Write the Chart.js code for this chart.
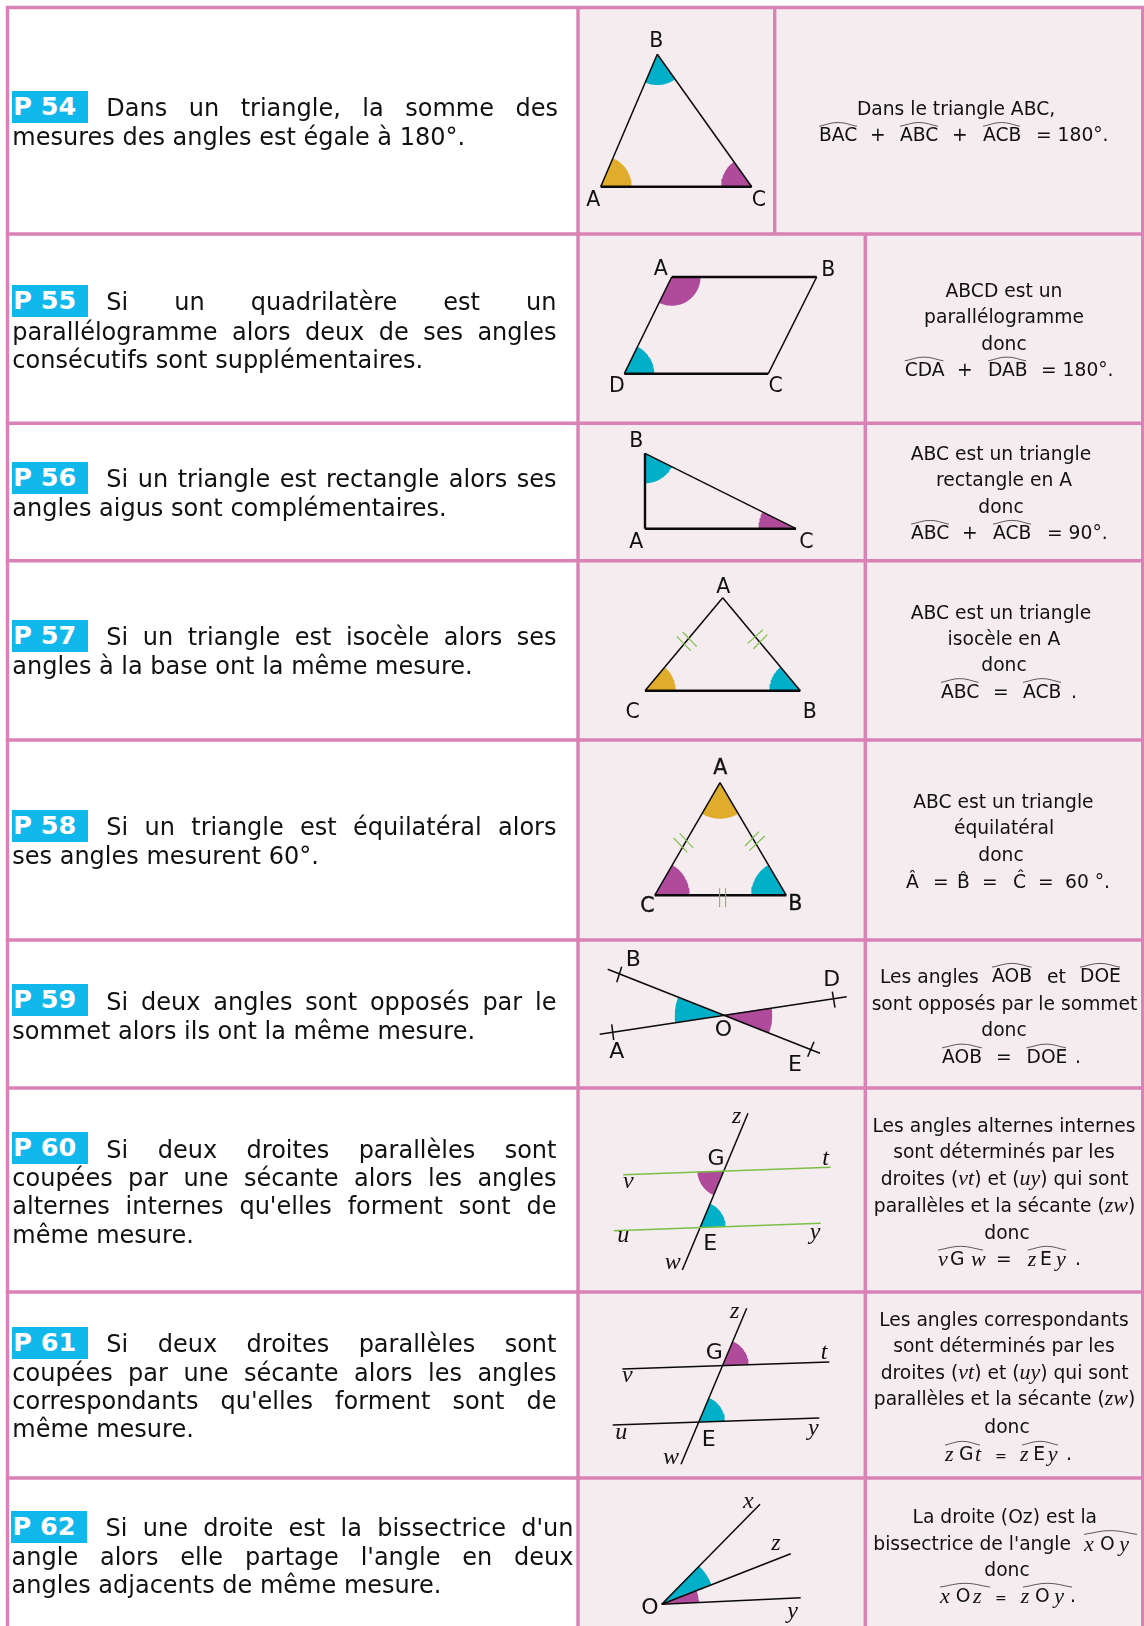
<!DOCTYPE html>
<html lang="fr"><head><meta charset="utf-8"><title>Propriétés des angles</title>
<script src="https://cdn.jsdelivr.net/npm/chart.js@4"></script>
<style>
html,body{margin:0;padding:0;background:#fff}
#wrap{position:relative;width:1144px;height:1626px;overflow:hidden;font-family:"DejaVu Sans",sans-serif;color:#111}
canvas{position:absolute;left:0;top:0}
.t{position:absolute;line-height:0;white-space:pre}
.j{position:absolute;line-height:0;white-space:normal;text-align:justify;text-align-last:justify}
.b{position:absolute;background:#11b8ec;color:#fff;font-weight:bold;font-size:25.5px;height:32px;line-height:31px;white-space:pre;box-sizing:border-box;padding-left:1.5px}
.strong{-webkit-text-stroke:.35px #111}
i{font-family:"Liberation Serif",serif;font-style:italic;font-size:22px}
</style></head><body><div id="wrap"><canvas id="c" width="1144" height="1626"></canvas></div>
<script>
// ---- table structure
const rowLines=[7.5,234,423.3,560.7,740,940,1088,1292,1478];
const pageBottom=1626, leftEdge=7.5, rightEdge=1142.7, col1=578;
const col2Top=774.7, col2=865.3;

// ---- figures: straight strokes [x1,y1,x2,y2]
const thinStrokes=[
 [600.7,186.7,657.3,54.3],[657.3,54.3,751.7,186.7],
 [671.7,277,624.3,373.7],[816.7,277,768.3,373.7],
 [645,453.3,796,528.7],
 [722.7,597.7,645,690.7],[722.7,597.7,800.3,690.7],
 [720,782.7,654.7,895.3],[720,782.7,786.3,895.3],
 [607.7,969.3,820,1053.3],[599.7,1034.3,846.7,996.7],
 [621.7,966.7,616.7,982.3],[611.7,1024.3,613.7,1040],[832.3,991.7,835,1007.7],[814,1041.7,807.7,1056.7],
 [748,1113.3,682.3,1270],
 [746.7,1308.3,681,1464.3],[622.3,1369,829.3,1362],[612.7,1425,819.3,1418],
 [661.7,1604.3,760,1504.3],[661.7,1604.3,790.7,1553.7],[661.7,1604.3,800.7,1597.7]
];
const thickStrokes=[
 [600.7,186.7,751.7,186.7],
 [671.7,277,816.7,277],[624.3,373.7,768.3,373.7],
 [645,453.3,645,528.7],[645,528.7,796,528.7],
 [645,690.7,800.3,690.7],
 [654.7,895.3,786.3,895.3]
];
const greenLines=[[623.3,1174.7,830.7,1167.3],[613.7,1230.7,820.7,1223.3]];
const greenTicks=[
 [676.7,636.3,690.7,650.7],[682.7,632,696.7,646.7],[747.7,643.3,762.7,630],[753.3,649,767.3,634.7],
 [673.7,838,687.3,852.3],[679.7,833.3,693.3,848],[745,846,759,831.7],[749.3,850.7,764.7,836],
 [719,906.7,719.6,888.3],[725,906.7,725.6,888.3]
];
// ---- angle marks [vertexX,vertexY,towardX1,towardY1,towardX2,towardY2,radius]
const cyanSectors=[
 [657.3,54.3,600.7,186.7,751.7,186.7,30.7],
 [624.3,373.7,768.3,373.7,671.7,277,30],
 [645,453.3,645,528.7,796,528.7,30],
 [800.3,690.7,645,690.7,722.7,597.7,31],
 [786.3,895.3,654.7,895.3,720,782.7,35.3],
 [722.7,1015,607.7,969.3,599.7,1034.3,48],
 [700,1227.3,820.7,1223.3,748,1113.3,25.7],
 [699.3,1421.7,819.3,1418,746.7,1308.3,25.7],
 [661.7,1604.3,760,1504.3,790.7,1553.7,53.5]
];
const goldSectors=[
 [600.7,186.7,751.7,186.7,657.3,54.3,31],
 [645,690.7,800.3,690.7,722.7,597.7,30.7],
 [720,782.7,654.7,895.3,786.3,895.3,36]
];
const magentaSectors=[
 [751.7,186.7,600.7,186.7,657.3,54.3,30.7],
 [671.7,277,816.7,277,624.3,373.7,28.8],
 [796,528.7,645,528.7,645,453.3,37.5],
 [654.7,895.3,786.3,895.3,720,782.7,35],
 [722.7,1015,846.7,996.7,820,1053.3,49.5],
 [724,1170.7,623.3,1174.7,682.3,1270,26.5],
 [723,1365.3,829.3,1362,746.7,1308.3,25.7],
 [661.7,1604.3,790.7,1553.7,800.7,1597.7,37.5]
];
// ---- angle hats [x1,x2,baseline]
const hats=[
 [819,857,141.9],[900,938,141.9],[983,1020,141.9],
 [904.7,943.4,376.5],[988,1026,376.5],
 [911,949,539.8],[993,1031,539.8],
 [941,978.5,698],[1023,1061,698],
 [992,1031.6,982.8],[1080,1120,982.8],
 [942,982,1063.5],[1026.5,1066,1063.5],
 [938,983,1265.7],[1027.7,1066,1265.7],
 [945,980,1460.7],[1022,1058,1460.7],
 [1084,1137,1550],
 [940,990,1602.7],[1023,1072,1602.7]
];

// ---- text
const rules=[
 {tag:"P 54",box:[11.7,91],first:"Dans un triangle, la somme des",rest:["mesures des angles est égale à 180°."],base:[116,145],right:558},
 {tag:"P 55",box:[11.7,285],first:"Si un quadrilatère est un",rest:["parallélogramme alors deux de ses angles","consécutifs sont supplémentaires."],base:[310,340.4,368.4],right:556.5},
 {tag:"P 56",box:[11.7,462.3],first:"Si un triangle est rectangle alors ses",rest:["angles aigus sont complémentaires."],base:[486.9,516.6],right:556.5},
 {tag:"P 57",box:[11.7,620.1],first:"Si un triangle est isocèle alors ses",rest:["angles à la base ont la même mesure."],base:[645.2,674.4],right:556.5},
 {tag:"P 58",box:[11.7,810.1],first:"Si un triangle est équilatéral alors",rest:["ses angles mesurent 60°."],base:[835.1,864.4],right:556.5},
 {tag:"P 59",box:[11.7,984],first:"Si deux angles sont opposés par le",rest:["sommet alors ils ont la même mesure."],base:[1010,1039],right:556.5},
 {tag:"P 60",box:[11.7,1132],first:"Si deux droites parallèles sont",rest:["coupées par une sécante alors les angles","alternes internes qu'elles forment sont de","même mesure."],base:[1158,1186.6,1214.6,1243],right:556.5},
 {tag:"P 61",box:[11.7,1327],first:"Si deux droites parallèles sont",rest:["coupées par une sécante alors les angles","correspondants qu'elles forment sont de","même mesure."],base:[1352.4,1381.4,1409.4,1437],right:556.5},
 {tag:"P 62",box:[11,1511],first:"Si une droite est la bissectrice d'un",rest:["angle alors elle partage l'angle en deux","angles adjacents de même mesure."],base:[1536.4,1565.4,1593],right:573.5}
];
// centred lines of the third column [text,centreX,baseline]
const centred=[
 ["Dans le triangle ABC,",956,115],
 ["ABCD est un",1004,297.5],["parallélogramme",1004,323.5],["donc",1004,350],
 ["ABC est un triangle",1001,460.4],["rectangle en A",1004,486.7],["donc",1001,513],
 ["ABC est un triangle",1001,619.6],["isocèle en A",1004,645.6],["donc",1004,671.2],
 ["ABC est un triangle",1003.4,808.6],["équilatéral",1004,834.1],["donc",1001,861.2],
 ["sont opposés par le sommet",1004.5,1010.8],["donc",1004,1036.8],
 ["Les angles alternes internes",1004,1132.5],["sont déterminés par les",1004,1158.3],["droites (<i>vt</i>) et (<i>uy</i>) qui sont",1004.7,1184],["parallèles et la sécante (<i>zw</i>)",1004.5,1211],["donc",1007,1239],
 ["Les angles correspondants",1004,1326],["sont déterminés par les",1004,1352.3],["droites (<i>vt</i>) et (<i>uy</i>) qui sont",1004.7,1378],["parallèles et la sécante (<i>zw</i>)",1004.5,1404.6],["donc",1007,1433.3],
 ["La droite (Oz) est la",1004.8,1523.4],["donc",1007,1576]
];
// left-anchored formula pieces [text,leftX,baseline]
const pieces=[
 ["BAC",819,141.9],["+",870,141.9],["ABC",900,141.9],["+",952,141.9],["ACB",983,141.9],["= 180°.",1036,141.9],
 ["CDA",904.7,376.5],["+",957,376.5],["DAB",988,376.5],["= 180°.",1041,376.5],
 ["ABC",911,539.8],["+",962,539.8],["ACB",993,539.8],["= 90°.",1047,539.8],
 ["ABC",941,698],["=",993,698],["ACB",1023,698],[".",1071,698],
 ["Â",906,888.3],["=",933,888.3],["B\u0302",957,888.3],["=",982,888.3],["Ĉ",1013,888.3],["=",1038,888.3],["60 °.",1065,888.3],
 ["Les angles",880,983],["AOB",992,982.8],["et",1047,983],["DOE",1080,982.8],
 ["AOB",942,1063.5],["=",996,1063.5],["DOE",1026.5,1063.5],[".",1075,1063.5],
 ["<i>v</i>",938,1265.7],["G",950,1265.7],["<i>w</i>",971,1265.7],["=",996,1265.7],["<i>z</i>",1027.7,1265.7],["E",1040,1265.7],["<i>y</i>",1056,1265.7],[".",1075,1265.7],
 ["<i>z</i>",945,1460.7],["G",959,1460.7],["<i>t</i>",975,1460.7],["<i>z</i>",1020,1460.7],["E",1033.3,1460.7],["<i>y</i>",1047.7,1460.7],[".",1066,1460.7],
 ["bissectrice de l'angle",873.3,1550],["<i>x</i>",1084,1550],["O",1100,1550],["<i>y</i>",1119.3,1550],
 ["<i>x</i>",940,1602.7],["O",955.7,1602.7],["<i>z</i>",973,1602.7],["<i>z</i>",1020.7,1602.7],["O",1035,1602.7],["<i>y</i>",1054.3,1602.7],[".",1070,1602.7]
];
const smallEquals=[[995,1460.7],[995,1602.7]];
// figure labels [text,centreX,centreY]
const pointLabels=[
 ["A",593.3,200],["B",656.3,40.7],["C",759,200],
 ["A",660.7,269.3],["B",828.3,270],["D",617,385.7],["C",775.7,385.7],
 ["B",636.3,440.7],["A",636.3,541.7],["C",806.3,541.7],
 ["A",723.3,587.3],["C",632.7,711.7],["B",809.7,711.7]
];
const largeLabels=[
 ["B",633.3,959.3],["D",831.7,980],["O",723.3,1029.3],["A",616.7,1051.7],["E",795,1065],
 ["G",716,1158.3],["E",710.3,1243.3],
 ["G",714.3,1352.7],["E",708.7,1439.3],
 ["O",650,1607.7]
];
const strongLabels=[["A",720.3,768.3],["C",647.3,905.7],["B",795.3,904]];
const lineLabels=[
 ["z",736.7,1118.3],["t",825.7,1160],["v",628.3,1183.3],["u",623.3,1237.3],["y",815,1234],["w",672.7,1264.3],
 ["z",734.7,1313.3],["t",824,1354],["v",627.3,1377.7],["u",621.3,1434],["y",813.3,1430],["w",671,1459],
 ["x",748.3,1503.3],["z",776,1545],["y",792.7,1613.3]
];

// ---- build datasets
const CELL="#f4ecee",GRID="#da82b5",CYAN="#00b0c9",GOLD="#e0ac2b",MAG="#b04a9a",GREEN="#7cbf45",INK="#0a0a0a";
const P=(x,y)=>({x,y});
const poly=(pts,c)=>({data:pts,showLine:true,fill:'shape',backgroundColor:c,borderWidth:0,pointRadius:0,tension:0,clip:false});
const seg=(s,c,w)=>({data:[P(s[0],s[1]),P(s[2],s[3])],showLine:true,fill:false,borderColor:c,borderWidth:w,pointRadius:0,borderCapStyle:'butt',clip:false});
const rect=(a,b,c,d,col)=>poly([P(a,b),P(c,b),P(c,d),P(a,d)],col);
function sector(s,c){
 const [vx,vy,ax,ay,bx,by,r]=s;
 let a=Math.atan2(ay-vy,ax-vx),b=Math.atan2(by-vy,bx-vx),d=b-a;
 while(d>Math.PI)d-=2*Math.PI; while(d<-Math.PI)d+=2*Math.PI;
 const pts=[P(vx,vy)];
 for(let i=0;i<=24;i++){const t=a+d*i/24;pts.push(P(vx+r*Math.cos(t),vy+r*Math.sin(t)));}
 return poly(pts,c);
}
const ds=[];
ds.push(rect(col1,rowLines[0],rightEdge,pageBottom,CELL));
cyanSectors.forEach(s=>ds.push(sector(s,CYAN)));
goldSectors.forEach(s=>ds.push(sector(s,GOLD)));
magentaSectors.forEach(s=>ds.push(sector(s,MAG)));
thinStrokes.forEach(s=>ds.push(seg(s,INK,1.5)));
thickStrokes.forEach(s=>ds.push(seg(s,INK,2.4)));
greenLines.forEach(s=>ds.push(seg(s,GREEN,1.6)));
greenTicks.forEach(s=>ds.push(seg(s,GREEN,1.1)));
hats.forEach(h=>ds.push({data:[P(h[0],h[2]-15.6),P((h[0]+h[1])/2,h[2]-19.4),P(h[1],h[2]-15.6)],showLine:true,fill:false,borderColor:"#333",borderWidth:.8,pointRadius:0,tension:.4,clip:false}));
const GW=3.4;
rowLines.forEach(y=>ds.push(seg([leftEdge-1.7,y,1144,y],GRID,GW)));
ds.push(seg([leftEdge,rowLines[0],leftEdge,pageBottom],GRID,GW));
ds.push(seg([col1,rowLines[0],col1,pageBottom],GRID,GW));
ds.push(seg([rightEdge,rowLines[0],rightEdge,pageBottom],GRID,GW));
ds.push(seg([col2Top,rowLines[0],col2Top,rowLines[1]],GRID,GW));
ds.push(seg([col2,rowLines[1],col2,pageBottom],GRID,GW));
ds.reverse(); // Chart.js paints the last dataset first

new Chart(document.getElementById('c'),{type:'scatter',data:{datasets:ds},options:{
 responsive:false,animation:false,events:[],layout:{padding:0},
 plugins:{legend:{display:false},tooltip:{enabled:false},title:{display:false}},
 scales:{x:{type:'linear',display:false,min:0,max:1144},y:{type:'linear',display:false,reverse:true,min:0,max:1626}}
}});

// ---- real text
const wrap=document.getElementById('wrap');
function put(html,x,base,size,opt={}){
 const e=document.createElement('div');e.className='t';e.innerHTML=html;
 e.style.fontSize=size+'px';
 e.style.top=(base-.346*size)+'px';
 if(opt.center){e.style.left=(x-200)+'px';e.style.width='400px';e.style.textAlign='center';}
 else e.style.left=x+'px';
 if(opt.cls)e.className+=' '+opt.cls;
 wrap.appendChild(e);return e;
}
const BODY=24,SMALL=18.7,LABEL=20.5,LABEL_LARGE=22;
rules.forEach(r=>{
 const b=document.createElement('div');b.className='b';b.textContent=r.tag;
 b.style.left=r.box[0]+'px';b.style.top=r.box[1]+'px';b.style.width=(r.tag==="P 62"?75.8:76.6)+'px';wrap.appendChild(b);
 const lefts=r.box[0]+.6;
 const lines=[r.first,...r.rest];
 lines.forEach((t,i)=>{
  const last=i===lines.length-1;
  if(last){put(t,lefts,r.base[i],BODY);return;}
  const e=document.createElement('div');e.className='j';e.textContent=t;
  const l=i===0?r.box[0]+94.6:lefts;
  e.style.left=l+'px';e.style.width=(r.right-l)+'px';e.style.fontSize=BODY+'px';e.style.top=(r.base[i]-.346*BODY)+'px';
  wrap.appendChild(e);
 });
});
centred.forEach(c=>put(c[0],c[1],c[2],SMALL,{center:true}));
pieces.forEach(c=>put(c[0],c[1],c[2],SMALL));
smallEquals.forEach(c=>put("=",c[0],c[1],14));
pointLabels.forEach(c=>put(c[0],c[1],c[2]+6.2,LABEL,{center:true}));
largeLabels.forEach(c=>put(c[0],c[1],c[2]+7,LABEL_LARGE,{center:true}));
strongLabels.forEach(c=>put(c[0],c[1],c[2]+6.2,LABEL,{center:true,cls:'strong'}));
lineLabels.forEach(c=>{const e=put("<i>"+c[0]+"</i>",c[1],c[2]+5,24,{center:true});e.firstChild.style.fontSize='24px';});
</script></body></html>
